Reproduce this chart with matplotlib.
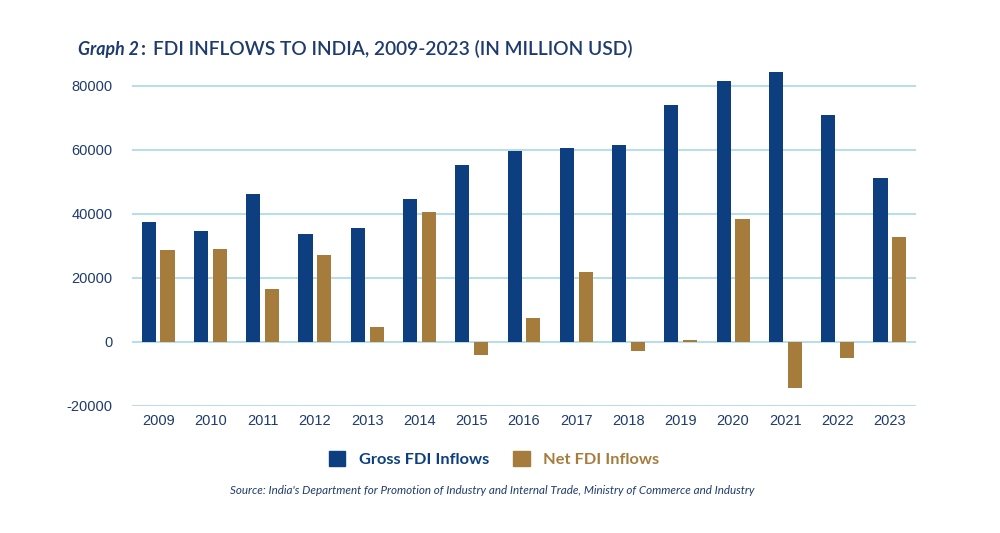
import matplotlib
matplotlib.use("Agg")
import matplotlib.pyplot as plt
import numpy as np
from matplotlib.patches import Patch

years = ["2009", "2010", "2011", "2012", "2013", "2014", "2015", "2016",
         "2017", "2018", "2019", "2020", "2021", "2022", "2023"]
gross_fdi = [37500, 34700, 46200, 33900, 35600, 44700, 55300, 59700,
             60600, 61600, 74000, 81700, 84400, 71000, 51300]
net_fdi = [28800, 29100, 16500, 27200, 4800, 40600, -4100, 7500,
           21900, -2700, 500, 38400, -14400, -5100, 32800]

GROSS_C = "#0d3f80"
NET_C = "#a67c3d"
GRID_C = "#a9d9e2"
TEXT_C = "#1f3b6e"

fig = plt.figure(figsize=(10, 5.33), dpi=100)
ax = fig.add_axes([0.132, 0.2383, 0.784, 0.6364])

x = np.arange(len(years))
w = 0.27
off = 0.18
ax.bar(x - off, gross_fdi, width=w, color=GROSS_C, zorder=3)
ax.bar(x + off, net_fdi, width=w, color=NET_C, zorder=3)

ax.set_xlim(-0.5, len(years) - 0.5)
ax.set_ylim(-20000, 86000)
ax.set_yticks([-20000, 0, 20000, 40000, 60000, 80000])
ax.set_yticklabels(["-20000", "0", "20000", "40000", "60000", "80000"])
ax.set_xticks(x)
ax.set_xticklabels(years)
ax.yaxis.grid(True, color=GRID_C, linewidth=1.2, zorder=0)
ax.set_axisbelow(True)
for s in ax.spines.values():
    s.set_visible(False)
ax.tick_params(axis="both", length=0, labelcolor=TEXT_C, pad=6)
ax.tick_params(axis="y", pad=14)
for lab in ax.get_xticklabels() + ax.get_yticklabels():
    lab.set_family("Liberation Sans")
    lab.set_fontsize(10.5)

# Title
fig.text(0.078, 0.908, "Graph 2", fontsize=12.8, fontstyle="italic",
         fontweight="bold", color=TEXT_C, family="Lato", va="center")
fig.text(0.1415, 0.908, ":", fontsize=14, fontweight="bold", color=TEXT_C,
         family="Lato", va="center")
fig.text(0.153, 0.908, "FDI INFLOWS TO INDIA, 2009-2023 (IN MILLION USD)",
         fontsize=13.8, fontweight="semibold", color=TEXT_C, family="Lato",
         va="center")

# Legend
handles = [Patch(color=GROSS_C, label="Gross FDI Inflows"),
           Patch(color=NET_C, label="Net FDI Inflows")]
leg = fig.legend(handles=handles, loc="center", bbox_to_anchor=(0.494, 0.138),
                 ncol=2, frameon=False, handlelength=1.0, handleheight=1.0,
                 columnspacing=1.5, handletextpad=0.8,
                 prop={"family": "Lato", "size": 11.8, "weight": "bold"})
for t, c in zip(leg.get_texts(), [GROSS_C, NET_C]):
    t.set_color(c)

fig.text(0.4925, 0.08, "Source: India's Department for Promotion of Industry and Internal Trade, Ministry of Commerce and Industry",
         fontsize=8.4, fontstyle="italic", color=TEXT_C, family="Lato",
         ha="center", va="center")

fig.savefig("out.png", dpi=100, facecolor="white")
